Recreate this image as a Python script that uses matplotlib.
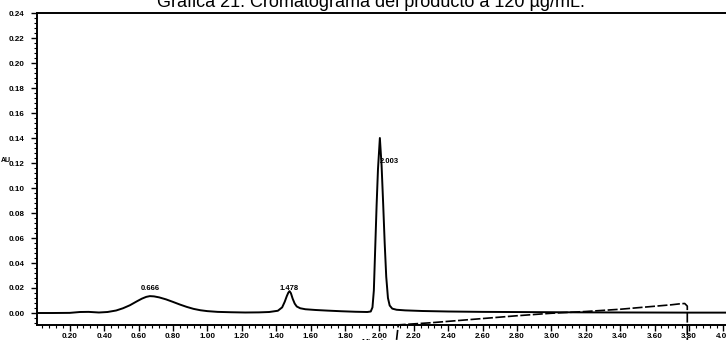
import matplotlib
matplotlib.use("Agg")
import matplotlib.pyplot as plt
from matplotlib.ticker import AutoMinorLocator, FormatStrFormatter

# Sample trace (retention time in minutes, absorbance in AU)
sample_time = [0.01, 0.10, 0.20, 0.26, 0.31, 0.37, 0.42, 0.47, 0.51, 0.55, 0.59,
               0.62, 0.645, 0.666, 0.69, 0.72, 0.76, 0.80, 0.84, 0.88, 0.92,
               0.96, 1.00, 1.06, 1.14, 1.22, 1.30, 1.36, 1.41, 1.435, 1.450,
               1.462, 1.471, 1.478, 1.486, 1.496, 1.508, 1.52, 1.54, 1.57,
               1.63, 1.70, 1.78, 1.86, 1.93, 1.950, 1.960, 1.968, 1.976,
               1.984, 1.992, 2.003, 2.013, 2.022, 2.031, 2.040, 2.050, 2.060,
               2.075, 2.10, 2.15, 2.25, 2.40, 2.60, 2.90, 3.20, 3.50, 3.80,
               4.02]
sample_au = [0.0000, 0.0000, 0.0001, 0.0008, 0.0009, 0.0004, 0.0008, 0.0020, 0.0038,
             0.0062, 0.0093, 0.0115, 0.0129, 0.0135, 0.0133, 0.0125, 0.0109, 0.0089,
             0.0068, 0.0049, 0.0033, 0.0022, 0.0015, 0.0009, 0.0006, 0.0004, 0.0005,
             0.0008, 0.0018, 0.0045, 0.0090, 0.0135, 0.0163, 0.0175, 0.0158, 0.0115,
             0.0075, 0.0052, 0.0038, 0.0030, 0.0024, 0.0019, 0.0014, 0.0010, 0.0008,
             0.0012, 0.0045, 0.0180, 0.0520, 0.0860, 0.1150, 0.1400, 0.1180, 0.0880,
             0.0560, 0.0290, 0.0120, 0.0060, 0.0035, 0.0026, 0.0021, 0.0016, 0.0012,
             0.0009, 0.0007, 0.0005, 0.0004, 0.0003, 0.0003]

# Baseline drift trace
drift_time = [2.10, 2.11, 2.30, 2.55, 2.80, 3.00, 3.20, 3.40, 3.55, 3.70, 3.75,
              3.775, 3.79, 3.79]
drift_au = [-0.0215, -0.0095, -0.0078, -0.0050, -0.0022, -0.0002, 0.0012, 0.0030,
            0.0048, 0.0066, 0.0074, 0.0076, 0.0055, -0.0215]

# Peak annotations
peak_times = [0.666, 1.478, 2.003]
peak_labels = ["0.666", "1.478", "2.003"]

y_ticks = [0.00, 0.02, 0.04, 0.06, 0.08, 0.10, 0.12, 0.14, 0.16, 0.18, 0.20, 0.22, 0.24]
x_ticks = [0.20, 0.40, 0.60, 0.80, 1.00, 1.20, 1.40, 1.60, 1.80, 2.00, 2.20, 2.40,
           2.60, 2.80, 3.00, 3.20, 3.40, 3.60, 3.80, 4.00]

plt.rcParams['font.family'] = ['Liberation Sans', 'DejaVu Sans']

fig = plt.figure(figsize=(7.26, 3.40), dpi=100)
ax = fig.add_axes([37 / 726, 1 - 325 / 340, 1 - 37 / 726, (325 - 13) / 340])

ax.plot(sample_time, sample_au, color='black', lw=1.4, solid_joinstyle='round')
ax.plot(drift_time, drift_au, color='black', lw=1.2, ls=(0, (6, 1.5)), clip_on=False)

ax.set_xlim(0.01, 4.015)
ax.set_ylim(-0.0096, 0.24)
ax.set_xticks(x_ticks)
ax.set_yticks(y_ticks)
ax.xaxis.set_minor_locator(AutoMinorLocator(5))
ax.yaxis.set_minor_locator(AutoMinorLocator(5))
ax.xaxis.set_major_formatter(FormatStrFormatter('%.2f'))
ax.yaxis.set_major_formatter(FormatStrFormatter('%.2f'))

ax.tick_params(axis='both', which='major', direction='out', length=4, width=1.0,
               labelsize=5.8, pad=1.5)
ax.tick_params(axis='both', which='minor', direction='out', length=2, width=0.8)
ax.tick_params(axis='y', pad=5)
for lab in ax.get_xticklabels() + ax.get_yticklabels():
    lab.set_fontweight('bold')

for side in ['left', 'bottom', 'top']:
    ax.spines[side].set_linewidth(1.4)
ax.spines['right'].set_visible(False)

# Peak retention-time labels
label_y = [0.0195, 0.0195, 0.1215]
label_ha = ['center', 'center', 'left']
for t, txt, ly, ha in zip(peak_times, peak_labels, label_y, label_ha):
    ax.text(t, ly, txt, ha=ha, va='center', fontsize=5.5, fontweight='bold')

# Units label beside the 0.12 tick
fig.text(0.5 / 726, 1 - 161 / 340, "AU", fontsize=5, fontweight='bold',
         ha='left', va='center')

fig.text(371 / 726, 1 - 7 / 340, "Gráfica 21. Cromatograma del producto a 120 µg/mL.",
         ha='center', va='baseline', fontsize=13)
fig.text(0.52, 1 - 344 / 340, "Minutes", ha='center', va='baseline', fontsize=6,
         fontweight='bold')

fig.savefig("out.png", dpi=100)
